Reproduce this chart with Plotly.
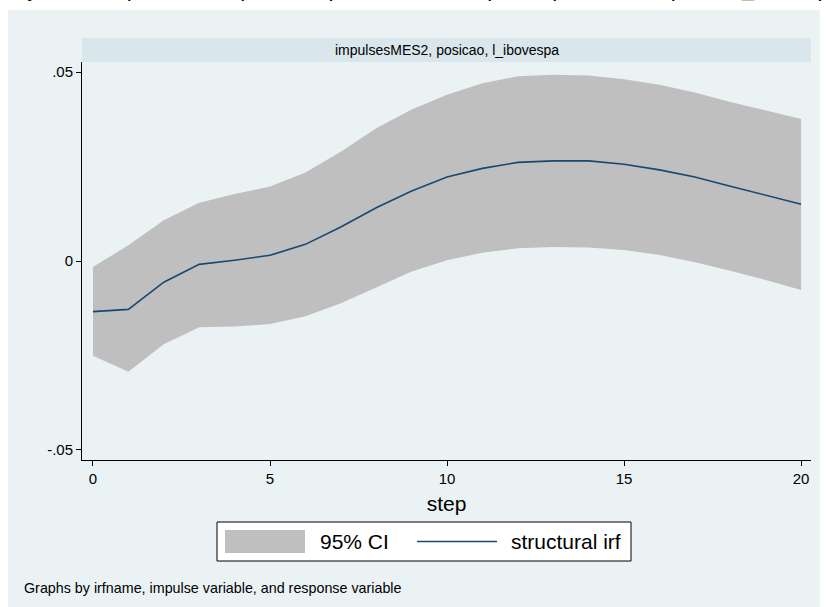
import plotly.graph_objects as go

# Impulse-response data: impulse "posicao", response "l_ibovespa"
steps = list(range(21))
irf = [-0.0134, -0.0128, -0.0056, -0.0009, 0.0002, 0.0015, 0.0044, 0.0090, 0.0141, 0.0185,
       0.0222, 0.0245, 0.0261, 0.0265, 0.0265, 0.0256, 0.0241, 0.0222, 0.0198, 0.0175, 0.0150]
ci_upper = [-0.0016, 0.0042, 0.0108, 0.0154, 0.0177, 0.0197, 0.0234, 0.0289, 0.0351, 0.0401,
            0.0440, 0.0470, 0.0489, 0.0493, 0.0491, 0.0481, 0.0466, 0.0446, 0.0421, 0.0399, 0.0376]
ci_lower = [-0.0251, -0.0293, -0.0220, -0.0175, -0.0173, -0.0167, -0.0146, -0.0112, -0.0070, -0.0028,
            0.0002, 0.0022, 0.0034, 0.0037, 0.0036, 0.0029, 0.0016, -0.0003, -0.0026, -0.0050, -0.0077]
y_ticks = [-0.05, 0, 0.05]
y_tick_labels = ["-.05", "0", ".05"]
x_ticks = [0, 5, 10, 15, 20]

W, H = 827, 607
L, R, T, B = 82, 811, 62, 460  # plot area in pixels
FONT = "Liberation Sans, Arial, sans-serif"
BG = "#EAF2F3"
STRIP = "#D9E6EB"
NAVY = "#1A476F"
CI_GRAY = "#BFBFBF"


def px(x):
    return (x - L) / (R - L)


def py(y):
    return (B - y) / (B - T)


fig = go.Figure()
fig.add_trace(go.Scatter(x=steps, y=ci_upper, mode="lines", line=dict(width=0, color=CI_GRAY),
                         showlegend=False, hoverinfo="skip"))
fig.add_trace(go.Scatter(x=steps, y=ci_lower, mode="lines", line=dict(width=0, color=CI_GRAY),
                         fill="tonexty", fillcolor=CI_GRAY, showlegend=False, name="95% CI"))
fig.add_trace(go.Scatter(x=steps, y=irf, mode="lines", line=dict(width=1.6, color=NAVY),
                         showlegend=False, name="structural irf"))

shapes = [
    # graph region background
    dict(type="rect", xref="paper", yref="paper", x0=px(8), x1=px(820), y0=py(607), y1=py(10),
         fillcolor=BG, line=dict(width=0), layer="below"),
    # strip behind the panel label
    dict(type="rect", xref="paper", yref="paper", x0=0, x1=1, y0=1, y1=py(38),
         fillcolor=STRIP, line=dict(width=0), layer="below"),
    # legend box
    dict(type="rect", xref="paper", yref="paper", x0=px(217), x1=px(631), y0=py(561), y1=py(522),
         fillcolor="white", line=dict(width=1, color="black")),
    dict(type="rect", xref="paper", yref="paper", x0=px(225), x1=px(305), y0=py(553), y1=py(530),
         fillcolor=CI_GRAY, line=dict(width=0)),
    dict(type="line", xref="paper", yref="paper", x0=px(417), x1=px(497), y0=py(541.5), y1=py(541.5),
         line=dict(width=1.6, color=NAVY)),
]

annotations = [
    dict(text="impulsesMES2, posicao, l_ibovespa", xref="paper", yref="paper", x=0.5, y=py(50),
         xanchor="center", yanchor="middle", showarrow=False, font=dict(family=FONT, size=14, color="black")),
    dict(text="95% CI", xref="paper", yref="paper", x=px(318), y=py(541.5), xanchor="left", yanchor="middle",
         showarrow=False, font=dict(family=FONT, size=21, color="black")),
    dict(text="structural irf", xref="paper", yref="paper", x=px(509), y=py(541.5), xanchor="left",
         yanchor="middle", showarrow=False, font=dict(family=FONT, size=21, color="black")),
    dict(text="Graphs by irfname, impulse variable, and response variable", xref="paper", yref="paper",
         x=px(22), y=py(588), xanchor="left", yanchor="middle", showarrow=False,
         font=dict(family=FONT, size=14.3, color="black")),
    dict(text="Função de resposta ao impulso: impulsesMES2, impulso: posicao, resposta: l_ibovespa",
         xref="paper", yref="paper", x=px(414), y=py(-11.2), xanchor="center", yanchor="middle",
         showarrow=False, font=dict(family=FONT, size=22, color="black")),
]

fig.update_layout(
    width=W, height=H,
    margin=dict(l=L, r=W - R, t=T, b=H - B, pad=0),
    paper_bgcolor="white", plot_bgcolor="white",
    font=dict(family=FONT, color="black"),
    shapes=shapes, annotations=annotations,
    showlegend=False,
    xaxis=dict(range=[-0.31, 20.28], tickmode="array", tickvals=x_ticks, ticks="outside", ticklen=5,
               tickcolor="black", showline=True, linecolor="black", linewidth=1, mirror=False,
               showgrid=False, zeroline=False, tickfont=dict(size=15),
               title=dict(text="step", font=dict(size=21), standoff=10)),
    yaxis=dict(range=[-0.05265, 0.05265], tickmode="array", tickvals=y_ticks, ticktext=y_tick_labels,
               ticks="outside", ticklen=5, tickcolor="black", showline=True, linecolor="black",
               linewidth=1, showgrid=True, gridcolor=BG, gridwidth=1, zeroline=False,
               tickfont=dict(size=15)),
)

fig.write_html("out.html")
